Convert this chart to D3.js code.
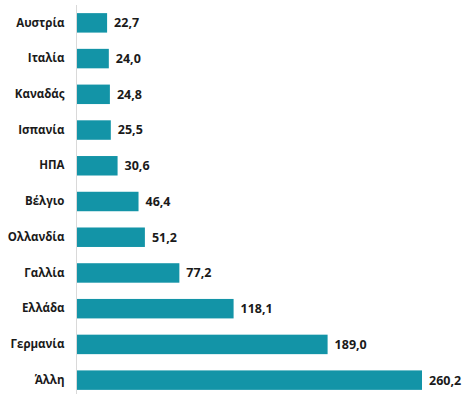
<!DOCTYPE html>
<html>
<head>
<meta charset="utf-8">
<script src="https://cdn.jsdelivr.net/npm/d3@7"></script>
<style>
  html, body { margin: 0; padding: 0; background: #fff; }
  svg { display: block; }
  text { font-family: "Open Sans", "DejaVu Sans", sans-serif; font-weight: 700; fill: #1a1a1a; }
</style>
</head>
<body>
<svg id="chart" width="463" height="394"></svg>
<script>
// Countries, top to bottom
const categories = ["Αυστρία", "Ιταλία", "Καναδάς", "Ισπανία", "ΗΠΑ", "Βέλγιο", "Ολλανδία", "Γαλλία", "Ελλάδα", "Γερμανία", "Άλλη"];
// Value per country
const values = [22.7, 24.0, 24.8, 25.5, 30.6, 46.4, 51.2, 77.2, 118.1, 189.0, 260.2];

const width = 463, height = 394;
const margin = { left: 77, right: 41, top: 5, bottom: -4 };

const svg = d3.select("#chart");
const rows = categories.map((c, i) => ({ name: c, value: values[i] }));

const x = d3.scaleLinear()
  .domain([0, d3.max(values)])
  .range([margin.left, width - margin.right]);

const y = d3.scaleBand()
  .domain(categories)
  .range([margin.top, height - margin.bottom])
  .paddingInner(0.455)
  .paddingOuter(0.2275);

// Bars
svg.append("g")
  .selectAll("rect")
  .data(rows)
  .join("rect")
  .attr("x", x(0))
  .attr("y", d => y(d.name))
  .attr("width", d => x(d.value) - x(0))
  .attr("height", y.bandwidth())
  .attr("fill", "#1394a7");

// Vertical axis line with category labels
const yAxis = d3.axisLeft(y).tickSize(0).tickPadding(12);
const ga = svg.append("g")
  .attr("transform", `translate(${x(0) - 0.5},0)`)
  .call(yAxis);
ga.select(".domain").attr("stroke", "#d9d9d9").attr("stroke-width", 1)
  .attr("d", `M0,${margin.top}V${height}`);
ga.selectAll("text")
  .style("font-family", "\"Open Sans\", sans-serif")
  .style("font-weight", 700)
  .attr("font-size", 11.5)
  .attr("fill", "#1a1a1a");

// Value labels
const fmt = v => d3.format(".1f")(v).replace(".", ",");
svg.append("g")
  .selectAll("text")
  .data(rows)
  .join("text")
  .attr("x", d => x(d.value) + 7)
  .attr("y", d => y(d.name) + y.bandwidth() / 2)
  .attr("dy", "0.35em")
  .attr("font-size", 12.5)
  .text(d => fmt(d.value))
  .each(function() {
    // keep labels inside the canvas
    const w = this.getComputedTextLength();
    const xx = +this.getAttribute("x");
    if (xx + w > width - 1) this.setAttribute("x", width - 1 - w);
  });
</script>
</body>
</html>
